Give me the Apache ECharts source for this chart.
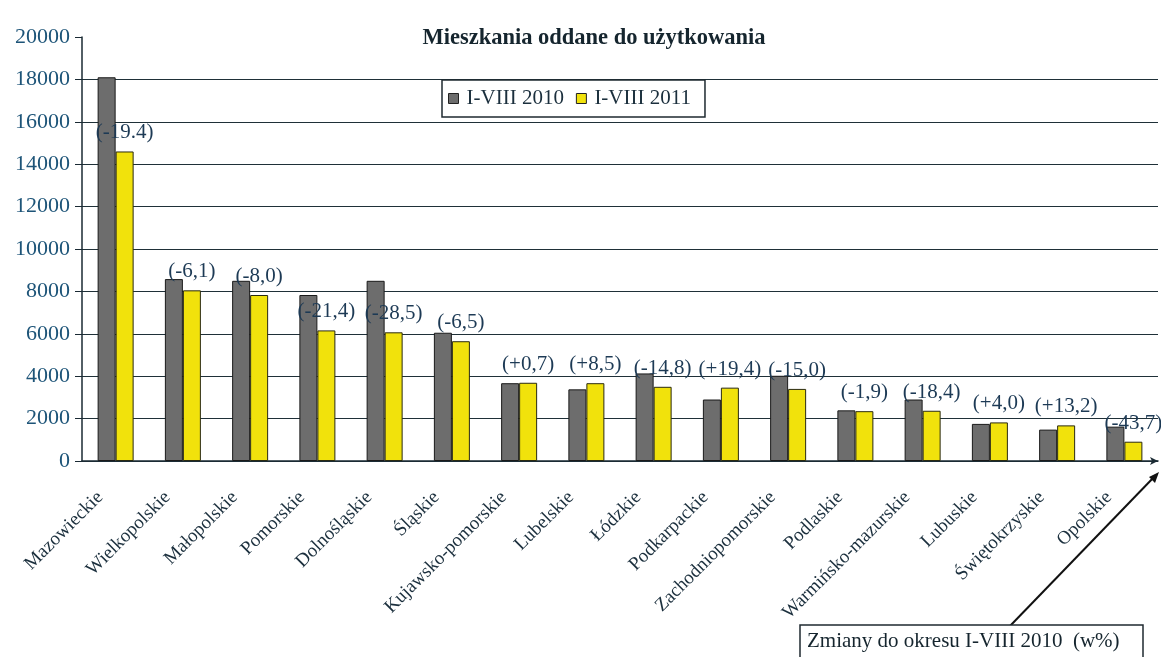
<!DOCTYPE html>
<html>
<head>
<meta charset="utf-8">
<script src="https://cdn.jsdelivr.net/npm/echarts@6/dist/echarts.min.js"></script>
<style>
  html, body { margin: 0; padding: 0; background: #fff; }
  #chart { width: 1161px; height: 657px; }
</style>
</head>
<body>
<div id="chart"></div>
<script>
// województwa
var regions = ['Mazowieckie', 'Wielkopolskie', 'Małopolskie', 'Pomorskie', 'Dolnośląskie', 'Śląskie',
  'Kujawsko-pomorskie', 'Lubelskie', 'Łódzkie', 'Podkarpackie', 'Zachodniopomorskie', 'Podlaskie',
  'Warmińsko-mazurskie', 'Lubuskie', 'Świętokrzyskie', 'Opolskie'];
var flats2010 = [18100, 8580, 8500, 7830, 8500, 6050, 3670, 3380, 4130, 2900, 4020, 2390, 2900, 1750, 1480, 1620];
var flats2011 = [14600, 8050, 7830, 6160, 6070, 5650, 3690, 3670, 3500, 3460, 3400, 2350, 2370, 1820, 1680, 910];
var changes = ['-19.4', '-6,1', '-8,0', '-21,4', '-28,5', '-6,5', '+0,7', '+8,5', '-14,8', '+19,4', '-15,0', '-1,9', '-18,4', '+4,0', '+13,2', '-43,7'];
var yTicks = [0, 2000, 4000, 6000, 8000, 10000, 12000, 14000, 16000, 18000, 20000];

var font = 'Liberation Serif';
var txt = '#1b2f3d';

var chart = echarts.init(document.getElementById('chart'));
var option = {
  backgroundColor: '#fff',
  animation: false,
  title: {
    text: 'Mieszkania oddane do użytkowania',
    left: 589, top: 22, textAlign: 'center',
    textStyle: { fontFamily: font, fontSize: 22.5, fontWeight: 'bold', color: '#15252e' }
  },
  legend: {
    left: 442, top: 80,
    padding: [8, 14, 8, 6],
    itemGap: 12, itemWidth: 10, itemHeight: 10,
    backgroundColor: '#fff', borderColor: '#1f2a30', borderWidth: 1.5,
    textStyle: { fontFamily: font, fontSize: 21, color: txt, padding: [0, 0, 0, 3] },
    data: [
      { name: 'I-VIII 2010', icon: 'rect', itemStyle: { borderColor: '#222', borderWidth: 1 } },
      { name: 'I-VIII 2011', icon: 'rect', itemStyle: { borderColor: '#222', borderWidth: 1 } }
    ]
  },
  grid: { left: 82, right: 3, top: 37, bottom: 196, containLabel: false },
  xAxis: {
    type: 'category',
    data: regions,
    axisLine: { lineStyle: { color: '#1a2a33', width: 1.5 }, symbol: ['none', 'arrow'], symbolSize: [6, 8] },
    axisTick: { length: 5, lineStyle: { color: '#1a2a33' } },
    axisLabel: {
      rotate: 45, interval: 0, margin: 18, padding: [0, 22, 0, 0],
      fontFamily: font, fontSize: 19, color: txt
    }
  },
  yAxis: {
    type: 'value',
    min: yTicks[0], max: yTicks[yTicks.length - 1], interval: 2000,
    axisLine: { show: true, lineStyle: { color: '#1a2a33', width: 1.5 } },
    axisTick: { show: true, length: 7, lineStyle: { color: '#1a2a33' } },
    axisLabel: {
      fontFamily: font, fontSize: 22, color: '#1d5478', margin: 12,
      formatter: function (v) { return String(v); }
    },
    splitLine: { show: true, showMaxLine: false, lineStyle: { color: '#1f3038', width: 1.2 } }
  },
  series: [
    {
      name: 'I-VIII 2010', type: 'bar', data: flats2010,
      barWidth: 18, barGap: '0%',
      itemStyle: { color: '#6d6d6d', borderColor: '#1a1a1a', borderWidth: 1 }
    },
    {
      name: 'I-VIII 2011', type: 'bar', data: flats2011,
      barWidth: 18, barGap: '0%',
      itemStyle: { color: '#f1e20c', borderColor: '#2a2a10', borderWidth: 1 },
      label: {
        show: true, position: 'top', distance: 8,
        fontFamily: font, fontSize: 21, color: '#1d3a55',
        formatter: function (p) { return '(' + changes[p.dataIndex] + ')'; }
      }
    }
  ],
  graphic: [
    {
      type: 'line',
      shape: { x1: 1010, y1: 626, x2: 1155, y2: 476 },
      style: { stroke: '#111', lineWidth: 2 }
    },
    {
      type: 'polygon',
      shape: { points: [[1159, 472], [1149, 477], [1155, 483]] },
      style: { fill: '#111' }
    },
    {
      type: 'rect',
      shape: { x: 800, y: 625, width: 343, height: 40 },
      style: { fill: '#fff', stroke: '#1f2a30', lineWidth: 1.5 }
    },
    {
      type: 'text',
      x: 807, y: 631,
      style: { text: 'Zmiany do okresu I-VIII 2010  (w%)', fontFamily: font, fontSize: 21, fill: '#15252e' }
    }
  ]
};
chart.setOption(option);
</script>
</body>
</html>
